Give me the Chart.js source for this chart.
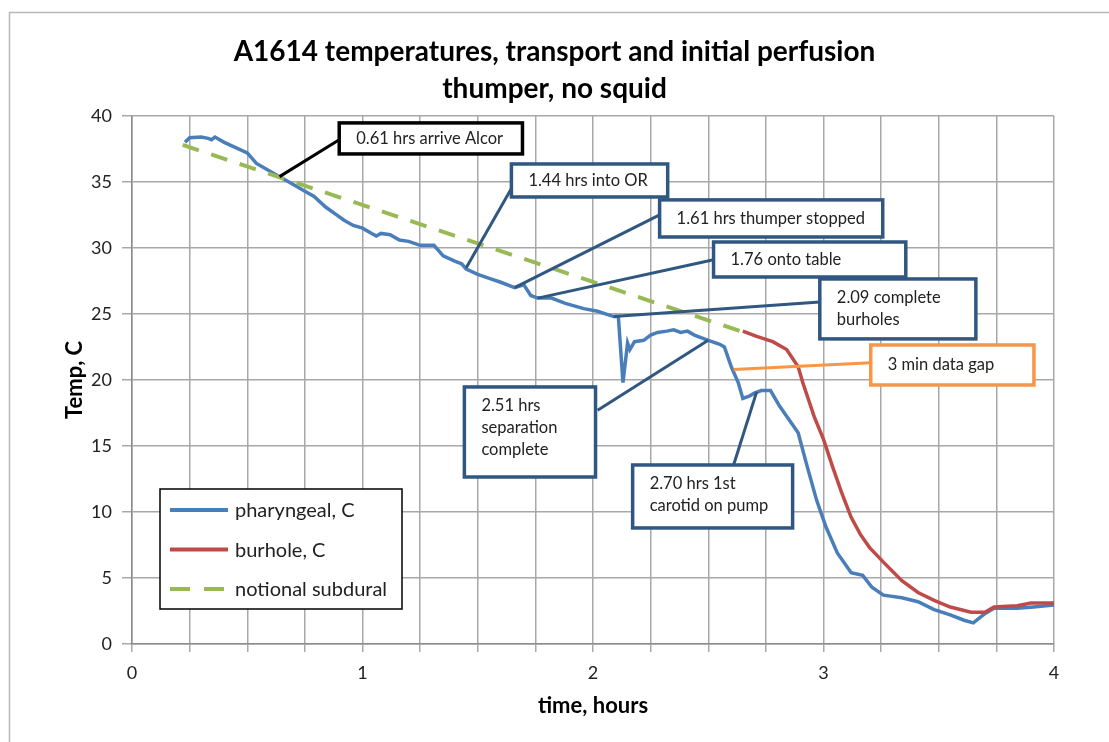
<!DOCTYPE html>
<html>
<head>
<meta charset="utf-8">
<script src="https://cdn.jsdelivr.net/npm/chart.js@4.4.1/dist/chart.umd.min.js"></script>
<style>
  html, body { margin: 0; padding: 0; background: #fff; }
</style>
</head>
<body>
<canvas id="myChart" width="1109" height="742"></canvas>
<script>
// temperature traces, hours vs deg C
const pharyngealHours = [0.23, 0.25, 0.30, 0.33, 0.345, 0.36, 0.40, 0.45, 0.50, 0.54, 0.58, 0.64, 0.70, 0.75, 0.79, 0.84, 0.88, 0.92, 0.96, 1.00,
  1.04, 1.06, 1.08, 1.12, 1.16, 1.20, 1.25, 1.31, 1.35, 1.40, 1.43, 1.45, 1.50, 1.55, 1.60, 1.66, 1.70, 1.73, 1.76, 1.82,
  1.88, 1.96, 2.02, 2.09, 2.11, 2.13, 2.15, 2.16, 2.18, 2.22, 2.25, 2.28, 2.32, 2.35, 2.38, 2.41, 2.44, 2.50, 2.55, 2.57,
  2.60, 2.63, 2.65, 2.68, 2.70, 2.73, 2.77, 2.81, 2.85, 2.89, 2.93, 2.97, 3.01, 3.06, 3.12, 3.17, 3.21, 3.26, 3.34, 3.41,
  3.48, 3.55, 3.61, 3.65, 3.70, 3.74, 3.84, 3.91, 4.00];
const pharyngealTemp = [38.0, 38.35, 38.4, 38.3, 38.2, 38.4, 38.0, 37.6, 37.2, 36.4, 36.0, 35.4, 34.8, 34.3, 33.9, 33.1, 32.6, 32.1, 31.7, 31.5,
  31.1, 30.9, 31.1, 31.0, 30.6, 30.5, 30.2, 30.2, 29.4, 29.0, 28.8, 28.4, 28.0, 27.7, 27.4, 27.0, 27.2, 26.4, 26.2, 26.2,
  25.8, 25.4, 25.2, 24.8, 24.8, 19.8, 22.8, 22.3, 22.9, 23.0, 23.4, 23.6, 23.7, 23.8, 23.6, 23.7, 23.4, 23.0, 22.7, 22.5,
  21.0, 19.8, 18.6, 18.8, 19.0, 19.2, 19.2, 18.0, 17.0, 16.0, 13.4, 10.9, 8.9, 6.9, 5.4, 5.2, 4.3, 3.7, 3.5, 3.2,
  2.6, 2.2, 1.8, 1.6, 2.3, 2.7, 2.7, 2.8, 2.95];

const burholeHours = [2.65, 2.71, 2.78, 2.84, 2.89, 2.91, 2.96, 3.00, 3.04, 3.08, 3.12, 3.16, 3.20, 3.26, 3.34, 3.41, 3.48, 3.55, 3.64, 3.70,
  3.74, 3.84, 3.90, 4.00];
const burholeTemp = [23.7, 23.3, 22.9, 22.3, 21.0, 19.8, 17.2, 15.5, 13.4, 11.4, 9.6, 8.3, 7.3, 6.2, 4.8, 3.9, 3.3, 2.8, 2.4, 2.4,
  2.8, 2.9, 3.1, 3.1];

const subduralHours = [0.22, 2.64];
const subduralTemp = [37.8, 23.7];

const seriesNames = ['pharyngeal, C', 'burhole, C', 'notional subdural'];

// events marked on the chart
const eventLabels = [
  ['0.61 hrs arrive Alcor'],
  ['1.44 hrs into OR'],
  ['1.61 hrs thumper stopped'],
  ['1.76 onto table'],
  ['2.09 complete', 'burholes'],
  ['3 min data gap'],
  ['2.51 hrs', 'separation', 'complete'],
  ['2.70 hrs 1st', 'carotid on pump']
];
const eventHours = [0.64, 1.45, 1.66, 1.76, 2.09, 2.61, 2.50, 2.71];
const eventTemps = [35.4, 28.5, 27.0, 26.2, 24.8, 20.8, 23.0, 19.1];

// callout boxes in axis units: x0, yTop, x1, yBottom, leader end x, leader end y
const calloutBoxes = [
  [0.899, 39.47, 1.694, 37.12, 0.899, 38.2],
  [1.646, 36.36, 2.324, 33.86, 1.646, 34.5],
  [2.289, 33.64, 3.257, 30.83, 2.289, 32.5],
  [2.523, 30.45, 3.357, 27.80, 2.523, 29.1],
  [2.984, 27.65, 3.661, 23.11, 2.984, 25.9],
  [3.205, 22.65, 3.913, 19.62, 3.205, 21.3],
  [1.442, 19.47, 2.011, 12.65, 2.02, 17.7],
  [2.172, 13.56, 2.866, 8.79, 2.61, 13.56]
];
const calloutColors = ['#000000', '#2f5782', '#2f5782', '#2f5782', '#2f5782', '#f79646', '#2f5782', '#2f5782'];

const BLUE = '#4a7ebb', RED = '#be4b48', GREEN = '#98b954';
const FONT = 'Lato, "Open Sans", sans-serif';

function pts(xs, ys) {
  return xs.map((v, i) => ({x: v, y: ys[i]}));
}

const framePlugin = {
  id: 'frame',
  beforeDraw(chart) {
    const c = chart.ctx;
    c.save();
    c.fillStyle = '#fff';
    c.fillRect(0, 0, chart.width, chart.height);
    c.strokeStyle = '#b8b8b8';
    c.lineWidth = 1.5;
    c.strokeRect(9.5, 12.5, chart.width + 20, chart.height + 20);
    c.restore();
  }
};

const calloutPlugin = {
  id: 'callouts',
  afterDatasetsDraw(chart) {
    const {ctx, scales: {x, y}} = chart;
    eventLabels.forEach((lines, i) => {
      const b = calloutBoxes[i];
      const left = x.getPixelForValue(b[0]), right = x.getPixelForValue(b[2]);
      const top = y.getPixelForValue(b[1]), bottom = y.getPixelForValue(b[3]);
      ctx.save();
      ctx.strokeStyle = calloutColors[i];
      ctx.lineWidth = 3;
      ctx.beginPath();
      ctx.moveTo(x.getPixelForValue(eventHours[i]), y.getPixelForValue(eventTemps[i]));
      ctx.lineTo(x.getPixelForValue(b[4]), y.getPixelForValue(b[5]));
      ctx.stroke();
      ctx.fillStyle = '#fff';
      ctx.fillRect(left, top, right - left, bottom - top);
      ctx.lineWidth = 3.5;
      ctx.strokeRect(left, top, right - left, bottom - top);
      ctx.fillStyle = '#222';
      ctx.font = '16.5px ' + FONT;
      ctx.textBaseline = 'middle';
      ctx.textAlign = 'left';
      lines.forEach((t, k) => {
        const ty = lines.length === 1 ? (top + bottom) / 2 : top + 19 + k * 22;
        ctx.fillText(t, left + 17, ty);
      });
      ctx.restore();
    });
  }
};

const legendPlugin = {
  id: 'boxLegend',
  afterDraw(chart) {
    const {ctx, chartArea} = chart;
    const left = chartArea.left + 28, top = chartArea.bottom - 155;
    ctx.save();
    ctx.fillStyle = '#fff';
    ctx.fillRect(left, top, 242, 120);
    ctx.strokeStyle = '#000';
    ctx.lineWidth = 1.5;
    ctx.strokeRect(left, top, 242, 120);
    const colors = [BLUE, RED, GREEN];
    ctx.font = '20px ' + FONT;
    ctx.textBaseline = 'middle';
    seriesNames.forEach((name, i) => {
      const ly = top + 21 + i * 39.5;
      ctx.strokeStyle = colors[i];
      ctx.lineWidth = 4;
      ctx.setLineDash(i === 2 ? [20, 14] : []);
      ctx.beginPath();
      ctx.moveTo(left + 10, ly);
      ctx.lineTo(left + 68, ly);
      ctx.stroke();
      ctx.setLineDash([]);
      ctx.fillStyle = '#222';
      ctx.fillText(name, left + 75, ly + 1);
    });
    ctx.restore();
  }
};

const ctx = document.getElementById('myChart');
const myChart = new Chart(ctx, {
  type: 'line',
  data: {
    datasets: [
      {
        label: seriesNames[0],
        data: pts(pharyngealHours, pharyngealTemp),
        borderColor: BLUE,
        borderWidth: 3.5,
        order: 2
      },
      {
        label: seriesNames[1],
        data: pts(burholeHours, burholeTemp),
        borderColor: RED,
        borderWidth: 3.5,
        order: 1
      },
      {
        label: seriesNames[2],
        data: pts(subduralHours, subduralTemp),
        borderColor: GREEN,
        borderWidth: 4,
        borderDash: [17, 13],
        order: 0
      }
    ]
  },
  options: {
    responsive: false,
    animation: false,
    elements: {
      point: { radius: 0, hoverRadius: 0 },
      line: { tension: 0, fill: false, borderCapStyle: 'butt' }
    },
    layout: { padding: 0 },
    scales: {
      x: {
        type: 'linear',
        min: 0,
        max: 4,
        afterFit(scale) { scale.height = 98; },
        ticks: {
          stepSize: 0.25,
          padding: 10,
          color: '#222',
          font: { family: FONT, size: 18 },
          maxRotation: 0,
          autoSkip: false,
          callback: (v) => Number.isInteger(v) ? String(v) : ''
        },
        grid: { color: '#a8a8a8', lineWidth: 1.5, tickLength: 8 },
        border: { color: '#8c8c8c', width: 1.5 },
        title: {
          display: true,
          text: 'time, hours',
          color: '#000',
          font: { family: FONT, size: 22, weight: 'bold' },
          padding: { top: 0, bottom: 23 }
        }
      },
      y: {
        min: 0,
        max: 40,
        afterFit(scale) { scale.width = 132; },
        ticks: {
          stepSize: 5,
          padding: 10,
          color: '#222',
          font: { family: FONT, size: 18 }
        },
        grid: { color: '#a8a8a8', lineWidth: 1.5, tickLength: 10 },
        border: { color: '#8c8c8c', width: 1.5 },
        title: {
          display: true,
          text: 'Temp, C',
          color: '#000',
          font: { family: FONT, size: 22, weight: 'bold' },
          padding: { top: 62, bottom: 0 }
        }
      },
      // empty right-hand strip so the plot ends short of the canvas edge
      spacer: {
        type: 'linear',
        position: 'right',
        display: true,
        afterFit(scale) { scale.width = 55; },
        grid: { display: false },
        ticks: { display: false },
        border: { display: false }
      }
    },
    plugins: {
      legend: { display: false },
      tooltip: { enabled: false },
      title: {
        display: true,
        text: ['A1614 temperatures, transport and initial perfusion', 'thumper, no squid'],
        color: '#000',
        font: { family: FONT, size: 28, weight: 'bold', lineHeight: 1.32 },
        padding: { top: 33.5, bottom: 8.5 }
      }
    }
  },
  plugins: [framePlugin, calloutPlugin, legendPlugin]
});
</script>
</body>
</html>
